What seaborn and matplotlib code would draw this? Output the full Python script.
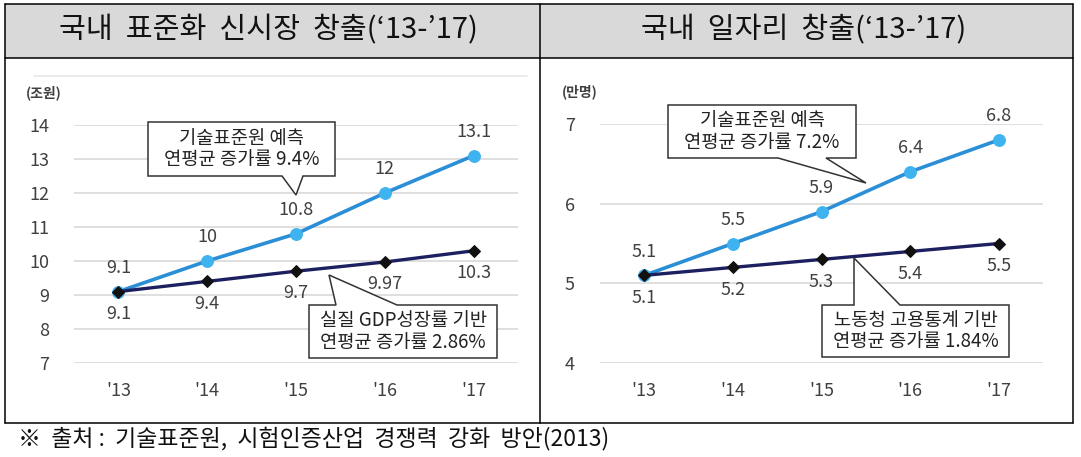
import numpy as np
import pandas as pd
import seaborn as sns
import matplotlib.pyplot as plt
from matplotlib.patches import Polygon, Rectangle
from matplotlib.lines import Line2D

# 데이터
years = ["'13", "'14", "'15", "'16", "'17"]
market_forecast = [9.1, 10, 10.8, 12, 13.1]
market_gdp = [9.1, 9.4, 9.7, 9.97, 10.3]
jobs_forecast = [5.1, 5.5, 5.9, 6.4, 6.8]
jobs_labor = [5.1, 5.2, 5.3, 5.4, 5.5]

title_left = "국내  표준화  신시장  창출(‘13-’17)"
title_right = "국내  일자리  창출(‘13-’17)"
unit_left = "(조원)"
unit_right = "(만명)"
box_left_top = "기술표준원 예측\n연평균 증가률 9.4%"
box_left_bottom = "실질 GDP성장률 기반\n연평균 증가률 2.86%"
box_right_top = "기술표준원 예측\n연평균 증가률 7.2%"
box_right_bottom = "노동청 고용통계 기반\n연평균 증가률 1.84%"
source = "※  출처 :  기술표준원,  시험인증산업  경쟁력  강화  방안(2013)"

sns.set_style("white")
plt.rcParams['font.family'] = ['Noto Sans CJK KR', 'DejaVu Sans']

W, H = 1081, 457
fig = plt.figure(figsize=(W / 100, H / 100), dpi=100)


def fx(px):
    return px / W


def fy(py):
    return 1 - py / H


blue_line = '#2a8fd6'
blue_mark = '#3fb2f0'
navy_line = '#1d2060'
text_col = '#404040'
grid_col = '#d9d9d9'

# 표 테두리와 제목칸
fig.add_artist(Rectangle((fx(5), fy(58)), fx(1073) - fx(5), fy(4) - fy(58),
                         transform=fig.transFigure, facecolor='#d9d9d9',
                         edgecolor='none', zorder=0))
for x0, y0, x1, y1 in [(5, 4, 1073, 4), (5, 58, 1073, 58), (5, 423, 1073, 423),
                       (5, 4, 5, 423), (1073, 4, 1073, 423), (540, 4, 540, 423)]:
    fig.add_artist(Line2D([fx(x0), fx(x1)], [fy(y0), fy(y1)], color='black',
                          lw=1.1, transform=fig.transFigure))
fig.text(fx(268), fy(30), title_left, ha='center', va='center', fontsize=21, color='#111111')
fig.text(fx(804), fy(30), title_right, ha='center', va='center', fontsize=21, color='#111111')
fig.text(fx(18), fy(438), source, ha='left', va='center', fontsize=16.5, color='#111111')

# 왼쪽 차트 윗선
fig.add_artist(Line2D([fx(34), fx(527)], [fy(76), fy(76)], color='#e8e8e8', lw=1.2,
                      transform=fig.transFigure))


def draw_chart(rect, up, down, ylim, unit, unit_xy):
    ax = fig.add_axes(rect)
    df = pd.DataFrame({'year': years, 'up': up, 'down': down})
    sns.lineplot(data=df, x='year', y='up', ax=ax, color=blue_line, lw=2.6,
                 marker='o', markersize=8.5, markerfacecolor=blue_mark,
                 markeredgecolor=blue_mark, zorder=3)
    sns.lineplot(data=df, x='year', y='down', ax=ax, color=navy_line, lw=2.4,
                 marker='D', markersize=6.5, markerfacecolor='#111111',
                 markeredgecolor='#111111', zorder=4)
    ax.set_xlim(-0.5, 4.5)
    ax.set_ylim(*ylim)
    ax.set_yticks(np.arange(ylim[0], ylim[1] + 1))
    ax.set_xticks(range(len(years)))
    ax.set_xticklabels(years)
    ax.set_xticks(np.arange(-0.5, 5, 1), minor=True)
    ax.set_xlabel('')
    ax.set_ylabel('')
    ax.yaxis.grid(True, color=grid_col, lw=1.2)
    ax.set_axisbelow(True)
    for s in ax.spines.values():
        s.set_visible(False)
    ax.tick_params(axis='y', length=0, pad=18, labelsize=13, labelcolor=text_col)
    ax.tick_params(axis='x', which='major', length=0, pad=14, labelsize=13, labelcolor=text_col)
    ax.tick_params(axis='x', which='minor', length=4, width=1, color=grid_col, direction='inout')
    for i, v in enumerate(up):
        ax.annotate(f'{v:g}', (i, v), xytext=(0, 17), textcoords='offset points',
                    ha='center', va='center', fontsize=13, color=text_col)
    for i, v in enumerate(down):
        ax.annotate(f'{v:g}', (i, v), xytext=(0, -16), textcoords='offset points',
                    ha='center', va='center', fontsize=13, color=text_col)
    fig.text(fx(unit_xy[0]), fy(unit_xy[1]), unit, ha='left', va='center',
             fontsize=10, fontweight='bold', color=text_col)
    return ax


def callout(box, base, apex, text):
    x0, y0, x1, y1 = box
    if apex[1] > y1:
        pts = [(x0, y0), (x1, y0), (x1, y1), (base[1], y1), apex, (base[0], y1), (x0, y1)]
    else:
        pts = [(x0, y0), (base[0], y0), apex, (base[1], y0), (x1, y0), (x1, y1), (x0, y1)]
    poly = Polygon([(fx(a), fy(b)) for a, b in pts], closed=True, transform=fig.transFigure,
                   facecolor='white', edgecolor='#333333', lw=1.1, zorder=10)
    fig.add_artist(poly)
    t = fig.text(fx((x0 + x1) / 2), fy((y0 + y1) / 2), text, ha='center', va='center',
                 fontsize=13.5, color='#222222', linespacing=1.05, zorder=11)
    return t


draw_chart([fx(74), fy(363), fx(518) - fx(74), fy(125) - fy(363)],
           market_forecast, market_gdp, (7, 14), unit_left, (26, 93))
draw_chart([fx(600), fy(363), fx(1043) - fx(600), fy(124) - fy(363)],
           jobs_forecast, jobs_labor, (4, 7), unit_right, (562, 92))

callout((148, 122, 335, 176), (282, 303), (296, 195), box_left_top)
callout((309, 305, 497, 358), (336, 397), (329, 275), box_left_bottom)
callout((668, 105, 856, 158), (778, 826), (866, 183), box_right_top)
callout((822, 305, 1009, 357), (854, 900), (854, 258), box_right_bottom)

fig.savefig('out.png', dpi=100)
